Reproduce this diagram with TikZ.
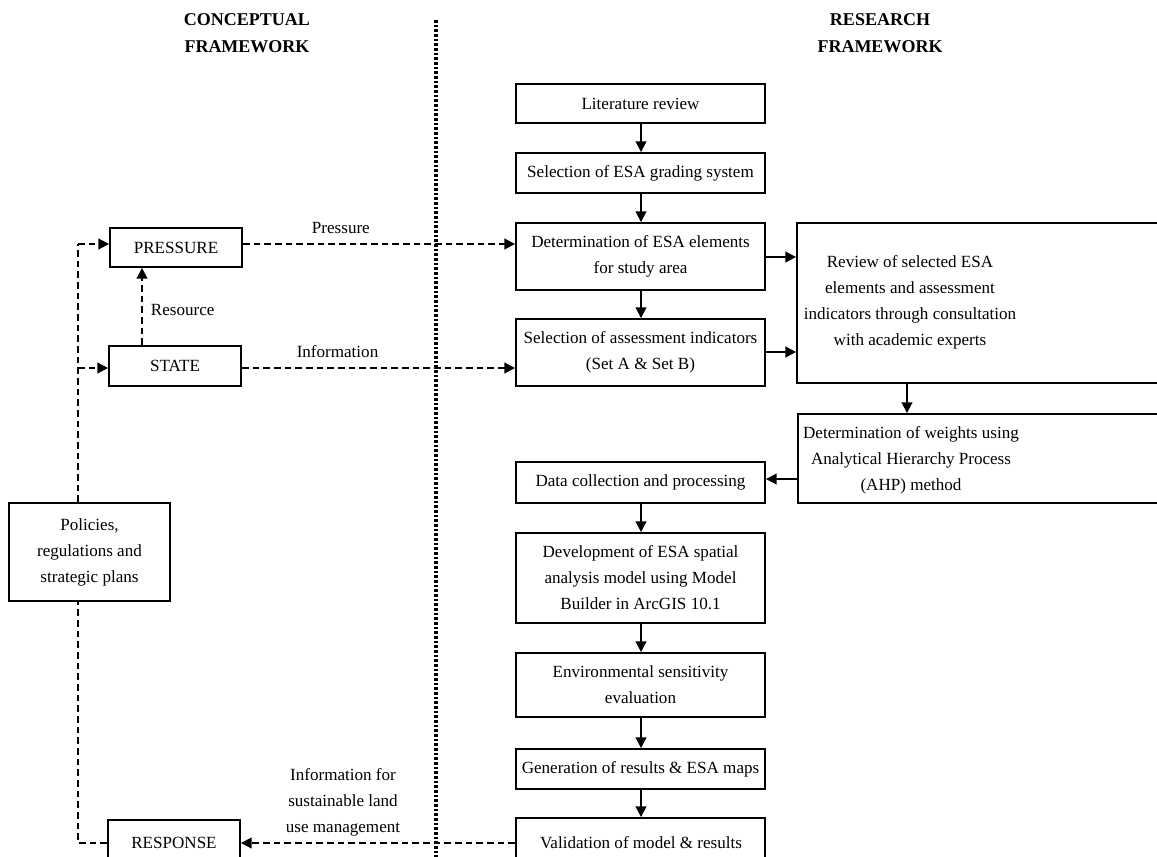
\documentclass[tikz,border=0pt]{standalone}
\usepackage{fontspec}
\setmainfont{Liberation Serif}
\usetikzlibrary{arrows.meta,fit}
\newcommand{\bx}[4]{%
  \node[box,fit={#2 #3}] (#1) {};
  \node[lbl] (#1t) at (#1.center) {#4};}
\begin{document}
\begin{tikzpicture}[x=0.75pt,y=-0.75pt,
  box/.style={draw,line width=1.4pt,inner sep=0pt},
  lbl/.style={font=\fontsize{12.8}{19.5}\selectfont,align=center,inner sep=0pt},
  hdr/.style={font=\bfseries\fontsize{13.5}{20}\selectfont,align=center,inner sep=0pt},
  flow/.style={line width=1.4pt,-{Triangle[length=8pt,width=8pt]}},
  dflow/.style={line width=1.4pt,dash pattern=on 5pt off 3pt,-{Triangle[length=8pt,width=8pt]}},
  dline/.style={line width=1.4pt,dash pattern=on 5pt off 3pt}]
\useasboundingbox (0,0) rectangle (1157,857);
\clip (0,0) rectangle (1157,857);
\fill[white] (0,0) rectangle (1157,857);

% headers
\node[hdr] (hc) at (247,33) {CONCEPTUAL\\FRAMEWORK};
\node[hdr] (hr) at (880,33) {RESEARCH\\FRAMEWORK};

% divider
\coordinate (dt) at (436,20);
\coordinate (db) at (436,860);
\draw[line width=2.3pt,dash pattern=on 2pt off 1.5pt] (dt) -- (db);

% left boxes
\bx{pres}{(110,228)}{(242,267)}{PRESSURE}
\bx{state}{(109,346)}{(241,386)}{STATE}
\bx{pol}{(9,503)}{(170,601)}{Policies,\\regulations and\\strategic plans}
\bx{resp}{(108,820)}{(240,866)}{RESPONSE}

% right column
\bx{lit}{(516,84)}{(765,123)}{Literature review}
\bx{grad}{(516,153)}{(765,193)}{Selection of ESA grading system}
\bx{det}{(516,223)}{(765,290)}{Determination of ESA elements\\for study area}
\bx{ind}{(516,319)}{(765,386)}{Selection of assessment indicators\\(Set A \& Set B)}
\node[box,fit={(797,223)(1170,383)}] (rev) {};
\node[lbl] (revt) at (910,302) {Review of selected ESA\\elements and assessment\\indicators through consultation\\with academic experts};
\node[box,fit={(798,414)(1170,503)}] (wei) {};
\node[lbl] (weit) at (911,460) {Determination of weights using\\Analytical Hierarchy Process\\(AHP) method};
\bx{data}{(516,462)}{(765,503)}{Data collection and processing}
\bx{dev}{(516,533)}{(765,623)}{Development of ESA spatial\\analysis model using Model\\Builder in ArcGIS 10.1}
\bx{env}{(516,653)}{(765,717)}{Environmental sensitivity\\evaluation}
\bx{gen}{(516,749)}{(765,789)}{Generation of results \& ESA maps}
\node[box,fit={(516,818)(765,868)}] (val) {};
\node[lbl] (valt) at (641,843) {Validation of model \& results};

% main flow
\draw[flow] (lit.south -| 641,0) -- (grad.north -| 641,0);
\draw[flow] (grad.south -| 641,0) -- (det.north -| 641,0);
\draw[flow] (det.south -| 641,0) -- (ind.north -| 641,0);
\draw[flow] (det.east |- 0,257) -- (rev.west |- 0,257);
\draw[flow] (ind.east |- 0,352) -- (rev.west |- 0,352);
\draw[flow] (rev.south -| 907,0) -- (wei.north -| 907,0);
\draw[flow] (wei.west |- 0,479) -- (data.east |- 0,479);
\draw[flow] (data.south -| 641,0) -- (dev.north -| 641,0);
\draw[flow] (dev.south -| 641,0) -- (env.north -| 641,0);
\draw[flow] (env.south -| 641,0) -- (gen.north -| 641,0);
\draw[flow] (gen.south -| 641,0) -- (val.north -| 641,0);

% conceptual flows
\draw[dflow] (pres.east |- 0,244) -- node[lbl,above=7pt,pos=0.36] (lp) {Pressure} (det.west |- 0,244);
\draw[dflow] (state.east |- 0,368) -- node[lbl,above=7pt,pos=0.35] (li) {Information} (ind.west |- 0,368);
\draw[dflow] (state.north -| 142,0) -- node[lbl,right=6pt,pos=0.45] (lr) {Resource} (pres.south -| 142,0);
\draw[dflow] (val.west |- 0,843) -- (resp.east |- 0,843);
\node[lbl] (lsus) at (343,802) {Information for\\sustainable land\\use management};

% policy loop
\coordinate (c1) at (78,244);
\coordinate (c2) at (78,368);
\coordinate (c3) at (78,843);
\draw[dline] (pol.north -| 78,0) -- (c1);
\draw[dflow] (c1) -- (pres.west |- 0,244);
\draw[dflow] (c2) -- (state.west |- 0,368);
\draw[dline] (resp.west |- 0,843) -- (c3) -- (pol.south -| 78,0);
\end{tikzpicture}
\end{document}
